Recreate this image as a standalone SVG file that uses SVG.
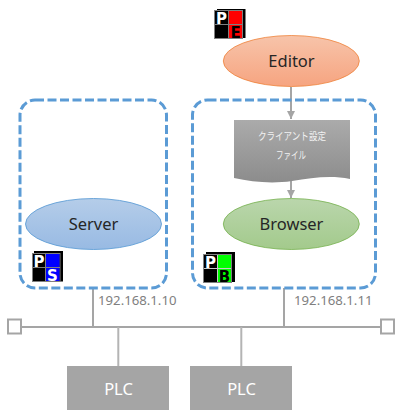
<svg xmlns="http://www.w3.org/2000/svg" width="403" height="419" viewBox="0 0 403 419">
<style>
.zone{fill:none;stroke:#5b9bd5;stroke-width:3;stroke-dasharray:9 3.5}
.lbl{font-family:"Noto Sans","Open Sans",sans-serif;font-size:16.5px;text-anchor:middle;fill:#262626}
.plc{fill:#a5a5a5}
.plct{font-family:"Noto Sans","Open Sans",sans-serif;font-size:16.5px;text-anchor:middle;fill:#fff}
.ip{font-family:"Noto Sans","Open Sans",sans-serif;font-size:13.2px;fill:#7f7f7f}
.net{fill:none;stroke:#a5a5a5;stroke-width:2}
.drop{fill:none;stroke:#b4b4b4;stroke-width:2}
.term{fill:#fff;stroke:#a5a5a5;stroke-width:2}
.arrow{fill:none;stroke:#a5a5a5;stroke-width:2;marker-end:url(#ah)}
.doct{font-family:"Noto Sans CJK JP",sans-serif;font-size:10.5px;text-anchor:middle;fill:#f2f2f2}
.shadow{fill:#000}
.frame{stroke:#808080;stroke-width:1}
.ic{font-family:"DejaVu Sans",sans-serif;font-weight:bold;font-size:15px;text-anchor:middle}
</style>
<defs>
<marker id="ah" markerUnits="userSpaceOnUse" markerWidth="9" markerHeight="8" refX="8" refY="4" orient="auto"><path d="M0 0L8 4L0 8Z" fill="#a5a5a5"/></marker>
<linearGradient id="gE" x1="0" y1="0" x2="0" y2="1"><stop offset="0" stop-color="#f7c4aa"/><stop offset="1" stop-color="#f6a480"/></linearGradient>
<linearGradient id="gS" x1="0" y1="0" x2="0" y2="1"><stop offset="0" stop-color="#b5cde9"/><stop offset="1" stop-color="#98bae3"/></linearGradient>
<linearGradient id="gB" x1="0" y1="0" x2="0" y2="1"><stop offset="0" stop-color="#bad6ac"/><stop offset="1" stop-color="#a3ca8c"/></linearGradient>
<linearGradient id="gD" x1="0" y1="0" x2="0" y2="1"><stop offset="0" stop-color="#ababab"/><stop offset="1" stop-color="#8c8c8c"/></linearGradient>
</defs>
<g id="connectors">
<path class="net" d="M21 327H381"/>
<path class="net" d="M93 288V327M284 288V327"/>
<path class="drop" d="M118.300 327V366M241.300 327V366"/>
<path class="arrow" d="M291 87V119"/>
<path class="arrow" d="M291 178V198"/>
</g>
<g id="zone-server"><rect class="zone" x="20" y="100" width="146.500" height="188" rx="15"/></g>
<g id="zone-browser"><rect class="zone" x="192.500" y="100" width="183" height="188" rx="15"/></g>
<g id="editor"><ellipse cx="291.300" cy="61" rx="68" ry="25.500" fill="url(#gE)" stroke="#ed7d31" stroke-opacity=".75"/><text class="lbl" x="291.500" y="67">Editor</text></g>
<g id="config-file"><path d="M234 120H350V179C330 175 312 178 292 181C272 184 252 182 234 178Z" fill="url(#gD)"/><text class="doct" x="292" y="140" textLength="68" lengthAdjust="spacingAndGlyphs">クライアント設定</text><text class="doct" x="291" y="159" textLength="30" lengthAdjust="spacingAndGlyphs">ファイル</text></g>
<g id="browser"><ellipse cx="291.300" cy="224" rx="68" ry="25.500" fill="url(#gB)" stroke="#70ad47" stroke-opacity=".75"/><text class="lbl" x="291.500" y="230">Browser</text></g>
<g id="server"><ellipse cx="93.500" cy="224" rx="68" ry="25.500" fill="url(#gS)" stroke="#5b9bd5" stroke-opacity=".85"/><text class="lbl" x="93.500" y="230">Server</text></g>
<g id="icon-e">
<rect class="shadow" x="217" y="9" width="28.500" height="29"/>
<rect class="frame" x="214.500" y="10.500" width="28" height="28" fill="#000"/>
<rect x="229" y="11" width="13" height="13" fill="#f00"/><rect x="229" y="25" width="13" height="13" fill="#f00"/>
<path d="M215 24.500H242M228.500 11V38" stroke="#808080"/>
<text class="ic" x="221.500" y="23.500" fill="#fff">P</text><text class="ic" x="235.500" y="37.500" fill="#000">E</text>
</g>
<g id="icon-s">
<rect class="shadow" x="34" y="251" width="29" height="30.500"/>
<rect class="frame" x="32.500" y="253.500" width="27.500" height="28" fill="#000"/>
<rect x="46" y="254" width="13.500" height="13" fill="#00f"/><rect x="46" y="268" width="13.500" height="13" fill="#00f"/>
<path d="M33 267.500H60M45.500 254V281" stroke="#808080"/>
<text class="ic" x="39" y="266.500" fill="#fff">P</text><text class="ic" x="52.500" y="280.500" fill="#fff">S</text>
</g>
<g id="icon-b">
<rect class="shadow" x="206" y="252" width="29" height="30"/>
<rect class="frame" x="203.500" y="254.500" width="28" height="28" fill="#000"/>
<rect x="218" y="255" width="13" height="13" fill="#0f0"/><rect x="218" y="269" width="13" height="13" fill="#0f0"/>
<path d="M204 268.500H231M217.500 255V282" stroke="#c8c8c8"/>
<text class="ic" x="210.500" y="267.500" fill="#fff">P</text><text class="ic" x="224.500" y="281.500" fill="#000">B</text>
</g>
<g id="ip-server"><text class="ip" x="98" y="305">192.168.1.10</text></g>
<g id="ip-browser"><text class="ip" x="294" y="305">192.168.1.11</text></g>
<g id="term-left"><rect class="term" x="8" y="319.500" width="13" height="14"/></g>
<g id="term-right"><rect class="term" x="381" y="319.500" width="13" height="14"/></g>
<g id="plc-1"><rect class="plc" x="67" y="366" width="102" height="44"/><text class="plct" x="118.500" y="395">PLC</text></g>
<g id="plc-2"><rect class="plc" x="190" y="366" width="102" height="44"/><text class="plct" x="241.500" y="395">PLC</text></g>
</svg>
